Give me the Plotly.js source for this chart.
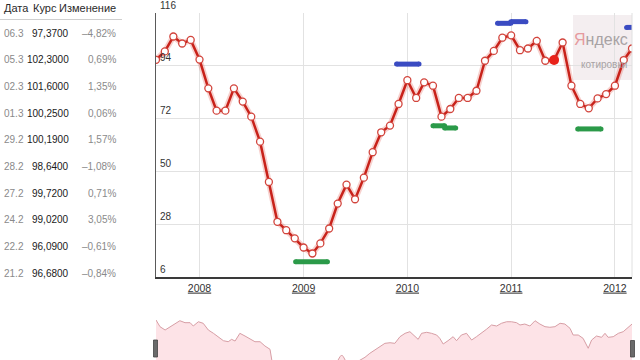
<!DOCTYPE html>
<html><head><meta charset="utf-8">
<script src="https://cdn.plot.ly/plotly-3.0.1.min.js"></script>
<style>html,body{margin:0;padding:0;background:#fff;}#chart{width:640px;height:360px;}</style>
</head><body><div id="chart"></div>
<script>
// ---- main chart: monthly quotes ----
const months = [
 '2007-08-01','2007-09-01','2007-10-01','2007-11-01','2007-12-01',
 '2008-01-01','2008-02-01','2008-03-01','2008-04-01','2008-05-01','2008-06-01','2008-07-01','2008-08-01','2008-09-01','2008-10-01','2008-11-01','2008-12-01',
 '2009-01-01','2009-02-01','2009-03-01','2009-04-01','2009-05-01','2009-06-01','2009-07-01','2009-08-01','2009-09-01','2009-10-01','2009-11-01','2009-12-01',
 '2010-01-01','2010-02-01','2010-03-01','2010-04-01','2010-05-01','2010-06-01','2010-07-01','2010-08-01','2010-09-01','2010-10-01','2010-11-01','2010-12-01',
 '2011-01-01','2011-02-01','2011-03-01','2011-04-01','2011-05-01','2011-06-01','2011-07-01','2011-08-01','2011-09-01','2011-10-01','2011-11-01','2011-12-01',
 '2012-01-01','2012-02-01','2012-03-01'];
const rates = [
 96.5, 100.0, 106.2, 103.3, 104.8,
 96.6, 84.6, 75.3, 75.3, 84.6, 79.1, 72.8, 62.4, 45.6, 29.0, 25.5, 22.1,
 18.3, 15.8, 20.0, 26.2, 36.6, 44.5, 38.4, 47.4, 58.0, 66.3, 69.1, 78.1,
 88.0, 80.6, 87.1, 85.7, 72.8, 76.0, 80.6, 80.6, 83.6, 96.1, 100.2, 105.7,
 106.7, 100.5, 101.2, 104.4, 96.1, 96.4, 103.7, 85.7, 78.1, 76.3, 80.4, 82.2,
 85.7, 96.4, 101.2];
const markedMonth = ['2011-06-01'];
const markedRate = [96.4];

// ---- event bars ----
const highStart = ['2009-11-24','2010-11-14','2010-12-31','2012-02-11'];
const highEnd   = ['2010-02-11','2010-12-31','2011-02-22','2012-03-10'];
const highLevel = [94.7, 111.7, 112.4, 110.0];
const lowStart  = ['2008-12-04','2010-04-01','2010-05-12','2011-08-23'];
const lowEnd    = ['2009-03-26','2010-05-12','2010-06-20','2011-11-13'];
const lowLevel  = [12.4, 69.0, 68.1, 67.7];

// ---- axis ticks ----
const yearTicks = ['2008-01-01','2009-01-01','2010-01-01','2011-01-01','2012-01-01'];
const yearLabels = ['2008','2009','2010','2011','2012'];
const valueTicks = [6, 28, 50, 72, 94, 116];

// ---- navigator (overview) series ----
const navDates = [
 '2007-08-01','2007-08-15','2007-09-02','2007-09-19','2007-10-07','2007-10-24','2007-11-11','2007-11-29','2007-12-10','2007-12-28',
 '2008-01-14','2008-02-01','2008-02-19','2008-03-07','2008-03-25','2008-04-11','2008-04-23','2008-05-05','2008-05-22','2008-06-09',
 '2008-06-27','2008-07-14','2008-08-01','2008-08-18','2008-09-05','2008-09-14','2008-10-15','2008-12-01','2009-02-01','2009-03-15',
 '2009-04-20','2009-05-09','2009-05-15','2009-05-21','2009-05-31','2009-06-20','2009-07-18','2009-08-05','2009-08-22','2009-09-09',
 '2009-09-27','2009-10-14','2009-11-01','2009-11-18','2009-12-06','2009-12-24','2010-01-10','2010-01-28','2010-02-08','2010-02-20',
 '2010-03-10','2010-03-27','2010-04-14','2010-04-25','2010-05-07','2010-05-24','2010-06-11','2010-06-23','2010-07-10','2010-07-28',
 '2010-08-15','2010-09-01','2010-09-19','2010-10-06','2010-10-24','2010-11-11','2010-11-28','2010-12-16','2011-01-02','2011-01-20',
 '2011-02-01','2011-02-18','2011-03-08','2011-03-26','2011-04-12','2011-04-30','2011-05-17','2011-06-04','2011-06-22','2011-07-09',
 '2011-07-27','2011-08-07','2011-08-25','2011-09-11','2011-09-29','2011-10-11','2011-10-28','2011-11-15','2011-11-27','2011-12-08',
 '2011-12-26','2012-01-13','2012-01-30','2012-02-17','2012-03-01'];
const navValues = [
 106.1, 96.2, 91.3, 96.2, 100.1, 105.0, 102.1, 102.1, 97.2, 103.5,
 101.2, 91.3, 86.4, 81.4, 75.5, 74.0, 77.5, 75.0, 86.4, 82.4,
 77.5, 74.0, 74.0, 67.7, 62.8, 40.0, 28.0, 20.0, 14.0, 22.0,
 38.0, 51.8, 54.4, 51.8, 44.0, 40.0, 47.0, 51.0, 56.9, 61.7,
 66.6, 71.6, 72.5, 71.6, 81.4, 86.4, 88.8, 81.4, 77.5, 86.4,
 87.9, 86.4, 83.9, 79.0, 70.6, 75.5, 81.4, 75.5, 83.9, 86.4,
 76.5, 81.4, 86.4, 92.3, 98.7, 97.2, 101.2, 103.5, 103.5, 102.1,
 98.7, 100.1, 97.2, 105.0, 100.1, 96.2, 95.3, 96.2, 101.2, 100.1,
 93.8, 83.9, 83.9, 79.0, 64.3, 76.5, 82.4, 80.5, 86.4, 80.5,
 81.4, 86.4, 88.8, 95.3, 100.1];

// ---- quote table ----
const tableHeader = ['Дата', 'Курс', 'Изменение'];
const tableDates = ['06.3','05.3','02.3','01.3','29.2','28.2','27.2','24.2','22.2','21.2'];
const tableRates = [97.37, 102.30, 101.60, 100.25, 100.19, 98.64, 99.72, 99.02, 96.09, 96.68];
const tableChanges = [-4.82, 0.69, 1.35, 0.06, 1.57, -1.08, 0.71, 3.05, -0.61, -0.84];

// ================= drawing =================
const W = 640, H = 360;
const FONT = '"Liberation Sans", Arial, sans-serif';
const fx = p => p / W;
const fy = p => 1 - p / H;
const xRange = ['2007-08-01', '2012-03-01'];
const plotX = [fx(156), fx(632)];

function bars(s, e, lv) {
  const x = [], y = [];
  for (let i = 0; i < s.length; i++) { x.push(s[i], e[i], null); y.push(lv[i], lv[i], null); }
  return {x, y};
}
const hb = bars(highStart, highEnd, highLevel);
const lb = bars(lowStart, lowEnd, lowLevel);

const traces = [
  {x: navDates, y: navValues, xaxis: 'x2', yaxis: 'y2', type: 'scatter', mode: 'lines',
   fill: 'tozeroy', fillcolor: '#fde3e7', line: {color: '#d79ea5', width: 1}, hoverinfo: 'skip'},
  {x: months, y: rates, type: 'scatter', mode: 'lines',
   line: {color: 'rgba(225,70,60,0.25)', width: 6}, hoverinfo: 'skip'},
  {x: months, y: rates, type: 'scatter', mode: 'lines+markers',
   line: {color: '#c8221a', width: 2.5},
   marker: {size: 7, color: '#ffffff', line: {color: '#d2443c', width: 1.3}}},
  {x: markedMonth, y: markedRate, type: 'scatter', mode: 'markers',
   marker: {size: 10, color: '#e8221a'}},
  {x: hb.x, y: hb.y, type: 'scatter', mode: 'lines+markers', cliponaxis: false,
   line: {color: '#3a4bc2', width: 5}, marker: {size: 5, color: '#3a4bc2'}, connectgaps: false},
  {x: lb.x, y: lb.y, type: 'scatter', mode: 'lines+markers', cliponaxis: false,
   line: {color: '#2b9a49', width: 5}, marker: {size: 5, color: '#2b9a49'}, connectgaps: false}
];

const annotations = [];
const base = {xref: 'paper', yref: 'paper', yanchor: 'middle', showarrow: false};
// table header
[[0, 2, 'left'], [1, 31, 'left'], [2, 118, 'right']].forEach(([i, x, anc]) => {
  annotations.push(Object.assign({}, base, {text: tableHeader[i], x: fx(x), xanchor: anc, y: fy(8),
    font: {family: FONT, size: 11, color: '#2a2a2a'}}));
});
// table rows
tableDates.forEach((d, i) => {
  const yy = fy(33 + 26.67 * i);
  const rate = tableRates[i].toFixed(4).replace('.', ',');
  const ch = tableChanges[i];
  const chs = (ch < 0 ? '–' : '') + Math.abs(ch).toFixed(2).replace('.', ',') + '%';
  annotations.push(Object.assign({}, base, {text: d, x: fx(1.5), xanchor: 'left', y: yy,
    font: {family: FONT, size: 10, color: '#8a8a8a'}}));
  annotations.push(Object.assign({}, base, {text: rate, x: fx(71), xanchor: 'right', y: yy,
    font: {family: FONT, size: 10, color: '#1a1a1a'}}));
  annotations.push(Object.assign({}, base, {text: chs, x: fx(118), xanchor: 'right', y: yy,
    font: {family: FONT, size: 10, color: '#8a8a8a'}}));
});
// watermark
annotations.push(Object.assign({}, base, {text: '<span style="color:#e69a9e">Я</span>ндекс', x: fx(601), y: fy(39),
  xanchor: 'center', font: {family: FONT, size: 16, color: '#a8a2a4'}}));
annotations.push(Object.assign({}, base, {text: 'котировки', x: fx(579), y: fy(64),
  xanchor: 'left', font: {family: FONT, size: 10, color: '#a8a2a4'}}));

const shapes = [
  {type: 'rect', xref: 'paper', yref: 'paper', x0: fx(573), x1: fx(632), y0: fy(80), y1: fy(15),
   fillcolor: '#f4eef0', line: {width: 0}, layer: 'below'},
  {type: 'line', xref: 'x domain', yref: 'y domain', x0: 1, x1: 1, y0: 0, y1: 1,
   line: {color: '#e0e0e0', width: 1}},
  {type: 'line', xref: 'paper', yref: 'paper', x0: 0, x1: fx(122), y0: fy(19.5), y1: fy(19.5),
   line: {color: '#cfcfcf', width: 1}},
  {type: 'rect', xref: 'paper', yref: 'paper', x0: fx(153.5), x1: fx(157.5), y0: fy(357), y1: fy(340),
   fillcolor: '#6a6a6a', line: {color: '#444', width: 0.8}},
  {type: 'rect', xref: 'paper', yref: 'paper', x0: fx(630.5), x1: fx(634.5), y0: fy(357), y1: fy(340.5),
   fillcolor: '#6a6a6a', line: {color: '#444', width: 0.8}}
];

const layout = {
  width: W, height: H, margin: {l: 0, r: 0, t: 0, b: 0},
  paper_bgcolor: '#ffffff', plot_bgcolor: 'rgba(0,0,0,0)', showlegend: false,
  xaxis: {domain: plotX, range: xRange, type: 'date', anchor: 'y',
    tickvals: yearTicks, ticktext: yearLabels.map(s => '<u>' + s + '</u>'),
    ticks: '', showgrid: true, gridcolor: '#e2e2e2', gridwidth: 1,
    showline: true, linecolor: '#3a3a3a', linewidth: 2, zeroline: false,
    tickfont: {family: FONT, size: 10.5, color: '#333'}, fixedrange: true},
  yaxis: {domain: [83 / H, 347 / H], range: [6, 116], anchor: 'x',
    tickvals: valueTicks, ticks: '', ticklabelposition: 'inside', ticklabelshift: -8,
    ticklabelstandoff: 3, ticklabeloverflow: 'allow',
    showgrid: true, gridcolor: '#e2e2e2', gridwidth: 1,
    showline: true, linecolor: '#5a5a5a', linewidth: 1.5, zeroline: false,
    tickfont: {family: FONT, size: 10, color: '#333'}, fixedrange: true},
  xaxis2: {domain: plotX, range: xRange, type: 'date', anchor: 'y2', visible: false, fixedrange: true},
  yaxis2: {domain: [0, 47 / H], range: [47, 116.4], anchor: 'x2', visible: false, fixedrange: true},
  annotations: annotations,
  shapes: shapes
};

Plotly.newPlot('chart', traces, layout, {staticPlot: true, displayModeBar: false});
</script>
</body></html>
